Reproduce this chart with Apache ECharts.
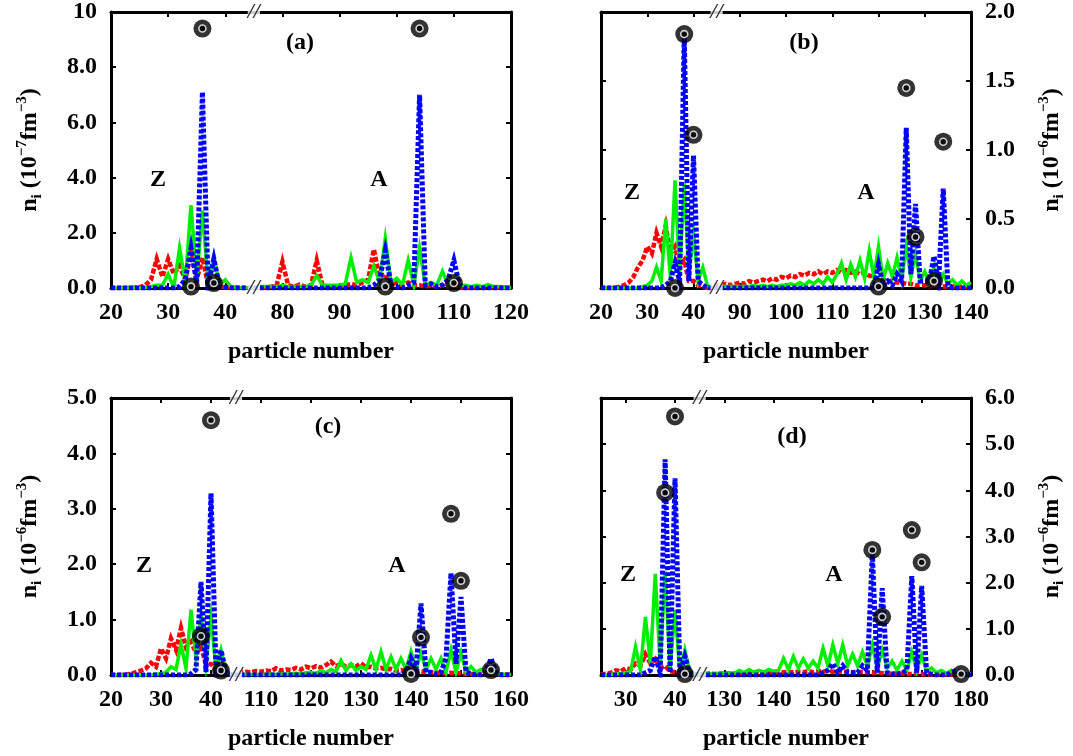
<!DOCTYPE html>
<html>
<head>
<meta charset="utf-8">
<script src="https://cdn.jsdelivr.net/npm/echarts@6/dist/echarts.min.js"></script>
<style>
  html, body { margin: 0; padding: 0; background: #fff; }
  #chart { width: 1073px; height: 756px; }
</style>
</head>
<body>
<div id="chart"></div>
<script>
// ----- data: panel (a) -----
const aXZ = [20,21,22,23,24,25,26,27,28,29,30,31,32,33,34,35,36,37,38,39,40,41,42,43,44,45];
const aRedZ   = [0,0,0,0,0.01,0.03,0.1,0.3,1.05,0.4,1.05,0.5,0.8,0.3,1.3,0.3,1.1,0.1,0.25,0.05,0.03,0.02,0.01,0,0,0];
const aGreenZ = [0,0,0,0,0,0,0.02,0.05,0.1,0.1,0.5,0.02,1.45,0.2,3.0,0.3,2.8,0.15,1.15,0.1,0.3,0.05,0.02,0,0,0];
const aBlueZ  = [0,0,0,0,0,0,0,0,0,0,0,0,0.05,0.3,1.45,0.2,7.1,0.1,1.05,0.05,0.02,0,0,0,0,0];
const aXA = [75,76,77,78,79,80,81,82,83,84,85,86,87,88,89,90,91,92,93,94,95,96,97,98,99,100,
             101,102,103,104,105,106,107,108,109,110,111,112,113,114,115,116,117,118,119,120];
const aRedA   = [0.02,0.02,0.02,0.05,0.1,0.95,0.1,0.05,0.12,0.05,0.1,1.0,0.1,0.05,0.05,0.05,0.1,0.15,0.1,0.2,0.3,1.4,0.4,0.5,0.1,0.2,
                 0.1,0.2,0.1,0.1,0.05,0.1,0.05,0.1,0.05,0.1,0.02,0.02,0.02,0.02,0.02,0.02,0.02,0.02,0.02,0.02];
const aGreenA = [0.05,0.05,0.05,0.05,0.05,0.1,0.05,0.05,0.05,0.05,0.1,0.45,0.1,0.1,0.1,0.1,0.15,1.1,0.2,0.3,0.2,0.8,0.2,1.8,0.2,0.35,
                 0.1,1.0,0.1,1.45,0.1,0.2,0.1,0.6,0.1,0.3,0.1,0.1,0.05,0.1,0.05,0.12,0.05,0.05,0.02,0.02];
const aBlueA  = [0,0,0,0,0,0,0,0,0,0,0,0,0,0,0,0,0,0,0,0,0,0.1,0.3,1.35,0.1,0.05,
                 0,0.1,0.2,7.0,0.1,0.15,0.05,0.1,0.3,1.0,0.1,0,0,0,0,0,0,0,0,0];
const aCircles = [[34,0.05],[36,9.4],[38,0.18],[98,0.05],[104,9.4],[110,0.18]];
const aTicks = [20,30,40,80,90,100,110,120];

// ----- data: panel (b) -----
const bXZ = [20,21,22,23,24,25,26,27,28,29,30,31,32,33,34,35,36,37,38,39,40,41,42,43,44,45];
const bRedZ   = [0,0,0,0,0.01,0.02,0.04,0.08,0.15,0.2,0.3,0.25,0.4,0.3,0.45,0.25,0.3,0.15,0.2,0.05,0.05,0.02,0.01,0,0,0];
const bGreenZ = [0,0,0,0,0,0,0,0,0,0.01,0.02,0.05,0.15,0.05,0.5,0.08,0.78,0.1,0.76,0.1,0.4,0.05,0.15,0.02,0,0];
const bBlueZ  = [0,0,0,0,0,0,0,0,0,0,0,0,0,0,0.02,0.05,0.18,0.05,1.83,0.05,0.96,0.05,0.02,0,0,0];
const bXA = [85,86,87,88,89,90,91,92,93,94,95,96,97,98,99,100,101,102,103,104,105,106,107,108,109,110,
             111,112,113,114,115,116,117,118,119,120,121,122,123,124,125,126,127,128,129,130,
             131,132,133,134,135,136,137,138,139,140];
const bRedA   = [0.02,0.02,0.03,0.02,0.03,0.04,0.03,0.05,0.04,0.05,0.06,0.05,0.07,0.06,0.08,0.07,0.09,0.08,0.1,0.09,0.11,0.1,0.12,0.1,0.12,0.11,
                 0.13,0.11,0.13,0.11,0.12,0.1,0.11,0.09,0.08,0.07,0.06,0.05,0.05,0.04,0.04,0.03,0.03,0.02,0.02,0.02,
                 0.01,0.01,0.01,0.01,0.01,0.01,0.01,0.01,0.01,0.01];
const bGreenA = [0.01,0.01,0.01,0.01,0.01,0.01,0.01,0.01,0.02,0.01,0.02,0.01,0.02,0.01,0.02,0.02,0.03,0.02,0.04,0.02,0.05,0.03,0.06,0.03,0.08,0.04,
                 0.1,0.18,0.06,0.17,0.08,0.2,0.07,0.27,0.08,0.3,0.06,0.18,0.08,0.22,0.06,0.3,0.08,0.25,0.05,0.12,
                 0.04,0.15,0.04,0.1,0.03,0.06,0.02,0.05,0.02,0.04];
const bBlueA  = [0,0,0,0,0,0,0,0,0,0,0,0,0,0,0,0,0,0,0,0,0,0,0,0,0,0,
                 0,0,0,0,0,0,0,0,0,0.17,0.02,0.05,0.02,0.1,0.05,1.16,0.1,0.61,0.05,0.05,
                 0.05,0.23,0.05,0.72,0.02,0,0,0,0,0];
const bCircles = [[36,0.0],[38,1.84],[40,1.11],[120,0.01],[126,1.45],[128,0.37],[132,0.05],[134,1.06]];
const bTicks = [20,30,40,90,100,110,120,130,140];

// ----- data: panel (c) -----
const cXZ = [20,21,22,23,24,25,26,27,28,29,30,31,32,33,34,35,36,37,38,39,40,41,42,43,44,45];
const cRedZ   = [0,0,0,0.01,0.02,0.05,0.08,0.12,0.22,0.15,0.48,0.3,0.66,0.45,0.85,0.5,0.6,0.4,0.5,0.2,0.2,0.08,0.1,0.03,0.02,0.01];
const cGreenZ = [0,0,0,0,0,0,0,0,0,0.02,0.02,0.05,0.15,0.1,0.55,0.12,1.18,0.3,1.1,0.2,1.05,0.1,0.45,0.05,0.02,0.01];
const cBlueZ  = [0,0,0,0,0,0,0,0,0,0,0,0,0,0,0,0,0.02,0.1,1.68,0.05,3.28,0.1,0.45,0.05,0.01,0];
const cXA = [105,106,107,108,109,110,111,112,113,114,115,116,117,118,119,120,121,122,123,124,125,126,127,128,129,130,
             131,132,133,134,135,136,137,138,139,140,141,142,143,144,145,146,147,148,149,150,
             151,152,153,154,155,156,157,158,159,160];
const cRedA   = [0.04,0.05,0.06,0.05,0.07,0.06,0.08,0.07,0.12,0.08,0.1,0.09,0.13,0.1,0.15,0.12,0.16,0.13,0.18,0.24,0.16,0.2,0.15,0.18,0.15,0.21,
                 0.14,0.15,0.12,0.13,0.1,0.11,0.08,0.09,0.07,0.08,0.06,0.07,0.05,0.05,0.04,0.04,0.03,0.04,0.03,0.03,
                 0.02,0.02,0.01,0.01,0.01,0.01,0.01,0.01,0.01,0.01];
const cGreenA = [0.01,0.01,0.01,0.01,0.01,0.01,0.01,0.02,0.01,0.02,0.02,0.02,0.03,0.02,0.04,0.05,0.03,0.08,0.04,0.1,0.06,0.26,0.08,0.2,0.08,0.15,
                 0.1,0.36,0.1,0.42,0.1,0.33,0.1,0.3,0.1,0.42,0.1,0.4,0.1,0.3,0.1,0.3,0.05,0.45,0.05,0.4,
                 0.05,0.15,0.05,0.1,0.05,0.05,0.02,0.02,0.01,0.01];
const cBlueA  = [0,0,0,0,0,0,0,0,0,0,0,0,0,0,0,0,0,0,0,0,0,0,0,0,0,0,
                 0,0,0,0,0,0,0,0,0.05,0.3,0.1,1.29,0.05,0.05,0.02,0.05,0.3,1.84,0.2,1.41,
                 0.05,0.02,0,0,0.05,0.3,0.05,0,0,0];
const cCircles = [[38,0.7],[40,4.6],[42,0.08],[140,0.02],[142,0.68],[148,2.91],[150,1.7],[156,0.09]];
const cTicks = [20,30,40,110,120,130,140,150,160];

// ----- data: panel (d) -----
const dXZ = [25,26,27,28,29,30,31,32,33,34,35,36,37,38,39,40,41,42,43,44,45];
const dRedZ   = [0.01,0.03,0.05,0.1,0.08,0.15,0.12,0.25,0.2,0.45,0.25,0.35,0.15,0.2,0.08,0.06,0.04,0.05,0.02,0.02,0.01];
const dGreenZ = [0,0,0.01,0.02,0.03,0.05,0.08,0.61,0.1,1.26,0.25,2.19,0.2,2.24,0.15,1.41,0.05,0.54,0.05,0.02,0.01];
const dBlueZ  = [0,0,0,0,0,0,0,0,0,0.05,0.1,0.4,0.05,4.67,0.05,4.26,0.05,0.4,0.05,0.01,0];
const dXA = [125,126,127,128,129,130,131,132,133,134,135,136,137,138,139,140,141,142,143,144,145,146,147,148,149,150,
             151,152,153,154,155,156,157,158,159,160,161,162,163,164,165,166,167,168,169,170,
             171,172,173,174,175,176,177,178,179,180];
const dRedA   = [0.03,0.02,0.03,0.02,0.03,0.03,0.04,0.03,0.04,0.04,0.05,0.04,0.05,0.05,0.06,0.05,0.06,0.06,0.07,0.06,0.07,0.06,0.08,0.06,0.08,0.07,
                 0.09,0.07,0.08,0.07,0.08,0.06,0.07,0.06,0.06,0.05,0.05,0.04,0.04,0.03,0.03,0.03,0.02,0.02,0.02,0.02,
                 0.01,0.01,0.01,0.01,0.01,0.01,0.01,0.01,0.01,0.01];
const dGreenA = [0.02,0.02,0.03,0.02,0.04,0.03,0.05,0.04,0.1,0.05,0.12,0.06,0.1,0.06,0.12,0.08,0.1,0.36,0.12,0.4,0.15,0.35,0.15,0.3,0.15,0.58,
                 0.2,0.65,0.25,0.65,0.2,0.45,0.2,0.5,0.2,0.65,0.15,0.54,0.15,0.3,0.1,0.3,0.1,0.5,0.1,0.43,
                 0.08,0.15,0.05,0.1,0.04,0.1,0.03,0.05,0.02,0.02];
const dBlueA  = [0,0,0,0,0,0,0,0,0,0,0,0,0,0,0,0,0,0,0,0,0,0,0,0,0,0.05,
                 0.1,0.25,0.05,0.2,0.05,0.05,0.05,0.2,0.1,2.64,0.05,1.88,0.05,0.02,0.02,0.05,0.1,2.14,0.05,1.93,
                 0.05,0.02,0,0,0,0.05,0.1,0.05,0,0];
const dCircles = [[38,3.95],[40,5.6],[42,0.02],[160,2.71],[162,1.26],[168,3.14],[170,2.44],[178,0.02]];
const dTicks = [30,40,130,140,150,160,170,180];

// ----- panel setup -----
const FONT = '"Liberation Serif", "DejaVu Serif", serif';
const panels = [
  { box: [111, 12, 400, 276], xr: [20, 120], brk: [45, 75], ticks: aTicks, ymax: 10, ystep: 2, side: 'left', exp: '−7',
    xZ: aXZ, xA: aXA, red: [aRedZ, aRedA], green: [aGreenZ, aGreenA], blue: [aBlueZ, aBlueA], circles: aCircles,
    texts: [['(a)', 300, 43], ['Z', 158, 180], ['A', 379, 180]] },
  { box: [601, 12, 370, 276], xr: [20, 140], brk: [45, 85], ticks: bTicks, ymax: 2, ystep: 0.5, side: 'right', exp: '−6',
    xZ: bXZ, xA: bXA, red: [bRedZ, bRedA], green: [bGreenZ, bGreenA], blue: [bBlueZ, bBlueA], circles: bCircles,
    texts: [['(b)', 804, 43], ['Z', 632, 193], ['A', 866, 193]] },
  { box: [111, 398, 400, 277], xr: [20, 160], brk: [45, 105], ticks: cTicks, ymax: 5, ystep: 1, side: 'left', exp: '−6',
    xZ: cXZ, xA: cXA, red: [cRedZ, cRedA], green: [cGreenZ, cGreenA], blue: [cBlueZ, cBlueA], circles: cCircles,
    texts: [['(c)', 328, 427], ['Z', 144, 566], ['A', 397, 566]] },
  { box: [601, 398, 370, 277], xr: [25, 180], brk: [45, 125], ticks: dTicks, ymax: 6, ystep: 1, side: 'right', exp: '−6',
    xZ: dXZ, xA: dXA, red: [dRedZ, dRedA], green: [dGreenZ, dGreenA], blue: [dBlueZ, dBlueA], circles: dCircles,
    texts: [['(d)', 792, 437], ['Z', 628, 575], ['A', 834, 575]] }
];

const labelStyle = { fontFamily: FONT, fontWeight: 'bold', fontSize: 24, color: '#000' };
const frame = { show: true, onZero: false, lineStyle: { color: '#000', width: 3 } };

const option = {
  backgroundColor: '#fff',
  animation: false,
  grid: [], xAxis: [], yAxis: [], series: [], graphic: []
};

panels.forEach((p, i) => {
  // broken x axis: the right segment is shifted left onto the left one
  const shift = p.brk[1] - p.brk[0];
  const toT = (x) => (x <= p.brk[0] ? x : x - shift);
  const fromT = (t) => (t <= p.brk[0] ? t : t + shift);
  const tickT = p.ticks.map(toT);
  const line = (zv, av) => p.xZ.map((x, k) => [toT(x), zv[k]]).concat(p.xA.map((x, k) => [toT(x), av[k]]));
  const circ = p.circles.map(([x, v]) => [toT(x), v]);

  option.grid.push({ left: p.box[0], top: p.box[1], width: p.box[2], height: p.box[3], containLabel: false, outerBoundsMode: 'none' });

  const xBase = {
    type: 'value', gridIndex: i, min: toT(p.xr[0]), max: toT(p.xr[1]),
    axisLine: frame, splitLine: { show: false },
    axisTick: { show: true, inside: true, length: 5, lineStyle: { color: '#000', width: 2 }, customValues: tickT }
  };
  option.xAxis.push(Object.assign({}, xBase, {
    position: 'bottom',
    axisLabel: Object.assign({ customValues: tickT, margin: 13, formatter: (v) => String(Math.round(fromT(v))) }, labelStyle),
    name: 'particle number', nameLocation: 'middle', nameGap: 52, nameTextStyle: labelStyle
  }));
  option.xAxis.push(Object.assign({}, xBase, { position: 'top', axisLabel: { show: false } }));

  const yName = 'n{sub|i} (10{sup|' + p.exp + '}fm{sup|−3})';
  const yBase = {
    type: 'value', gridIndex: i, min: 0, max: p.ymax, interval: p.ystep,
    axisLine: frame, splitLine: { show: false },
    axisTick: { show: true, inside: true, length: 5, lineStyle: { color: '#000', width: 2 } }
  };
  ['left', 'right'].forEach((pos) => {
    const ax = Object.assign({}, yBase, { position: pos });
    if (pos === p.side) {
      ax.axisLabel = Object.assign({ margin: 14, formatter: (v) => (v === 10 ? '10' : v.toFixed(1)) }, labelStyle);
      ax.name = yName;
      ax.nameLocation = 'middle';
      ax.nameGap = 66;
      ax.nameRotate = 90;
      ax.nameTextStyle = Object.assign({}, labelStyle, {
        lineHeight: 30,
        rich: {
          sub: { fontFamily: FONT, fontWeight: 'bold', fontSize: 15, color: '#000', verticalAlign: 'bottom', lineHeight: 16 },
          sup: { fontFamily: FONT, fontWeight: 'bold', fontSize: 15, color: '#000', verticalAlign: 'top', lineHeight: 16 }
        }
      });
    } else {
      ax.axisLabel = { show: false };
    }
    option.yAxis.push(ax);
  });

  const xi = i * 2, yi = i * 2;
  option.series.push(
    { type: 'line', xAxisIndex: xi, yAxisIndex: yi, data: line(p.red[0], p.red[1]), symbol: 'none', z: 2,
      lineStyle: { color: '#ff0000', width: 4.5, type: [5, 2], join: 'miter' } },
    { type: 'line', xAxisIndex: xi, yAxisIndex: yi, data: line(p.green[0], p.green[1]), symbol: 'none', z: 3,
      lineStyle: { color: '#00ee00', width: 3.5, join: 'miter' } },
    { type: 'line', xAxisIndex: xi, yAxisIndex: yi, data: line(p.blue[0], p.blue[1]), symbol: 'none', z: 4,
      lineStyle: { color: '#0000ff', width: 5, type: [4, 2], join: 'miter' } },
    { type: 'scatter', xAxisIndex: xi, yAxisIndex: yi, data: circ, symbolSize: 18, clip: false, z: 5,
      itemStyle: { color: '#000' } },
    { type: 'scatter', xAxisIndex: xi, yAxisIndex: yi, data: circ, symbolSize: 7, clip: false, z: 6,
      itemStyle: { color: '#000', borderColor: '#fff', borderWidth: 1.6 } },
    // axis break marks
    { type: 'scatter', xAxisIndex: xi, yAxisIndex: yi, data: [[p.brk[0], 0], [p.brk[0], p.ymax]], symbolSize: 0, clip: false, z: 7,
      silent: true,
      label: { show: true, position: 'inside', formatter: '//', fontFamily: FONT, fontWeight: 'bold', fontStyle: 'italic', fontSize: 22,
               color: '#000', backgroundColor: '#fff', lineHeight: 12, padding: [0, 0] } }
  );

  p.texts.forEach(([t, x, y]) => {
    option.graphic.push({
      type: 'text', x, y, z: 10,
      style: { text: t, font: 'bold 24px ' + FONT, fill: '#000', align: 'center', verticalAlign: 'middle',
               textAlign: 'center', textVerticalAlign: 'middle' }
    });
  });
});

const chart = echarts.init(document.getElementById('chart'), null, { renderer: 'canvas' });
chart.setOption(option);
</script>
</body>
</html>
